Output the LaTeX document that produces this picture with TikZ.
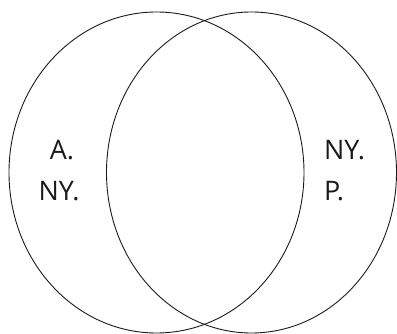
\documentclass[tikz,border=0pt]{standalone}
\usepackage{fontspec}
\setmainfont{Open Sans}
\usepackage{xcolor}
\usepackage{tikz}
\definecolor{ink}{HTML}{1A1A1A}

\begin{document}
\begin{tikzpicture}[x=1bp, y=1bp,
  setring/.style={draw=ink, line width=0.9bp},
  setlabel/.style={inner sep=0pt, anchor=base, font=\fontsize{27}{41}\selectfont, text=ink}]
  \useasboundingbox (0,0) rectangle (397,334);
  % the two sets
  \draw[setring] (156.5,161.5) ellipse [x radius=147.5, y radius=160.5];
  \draw[setring] (251.5,161.5) ellipse [x radius=145, y radius=160.5];
  % left-only region
  \node[setlabel] (leftA) at (62,175) {A.};
  \node[setlabel] (leftNY) at (59,134) {NY.};
  % right-only region
  \node[setlabel, anchor=base west] (rightNY) at (324,175) {NY.};
  \node[setlabel, anchor=base west] (rightP) at (324,134) {P.};
\end{tikzpicture}
\end{document}
